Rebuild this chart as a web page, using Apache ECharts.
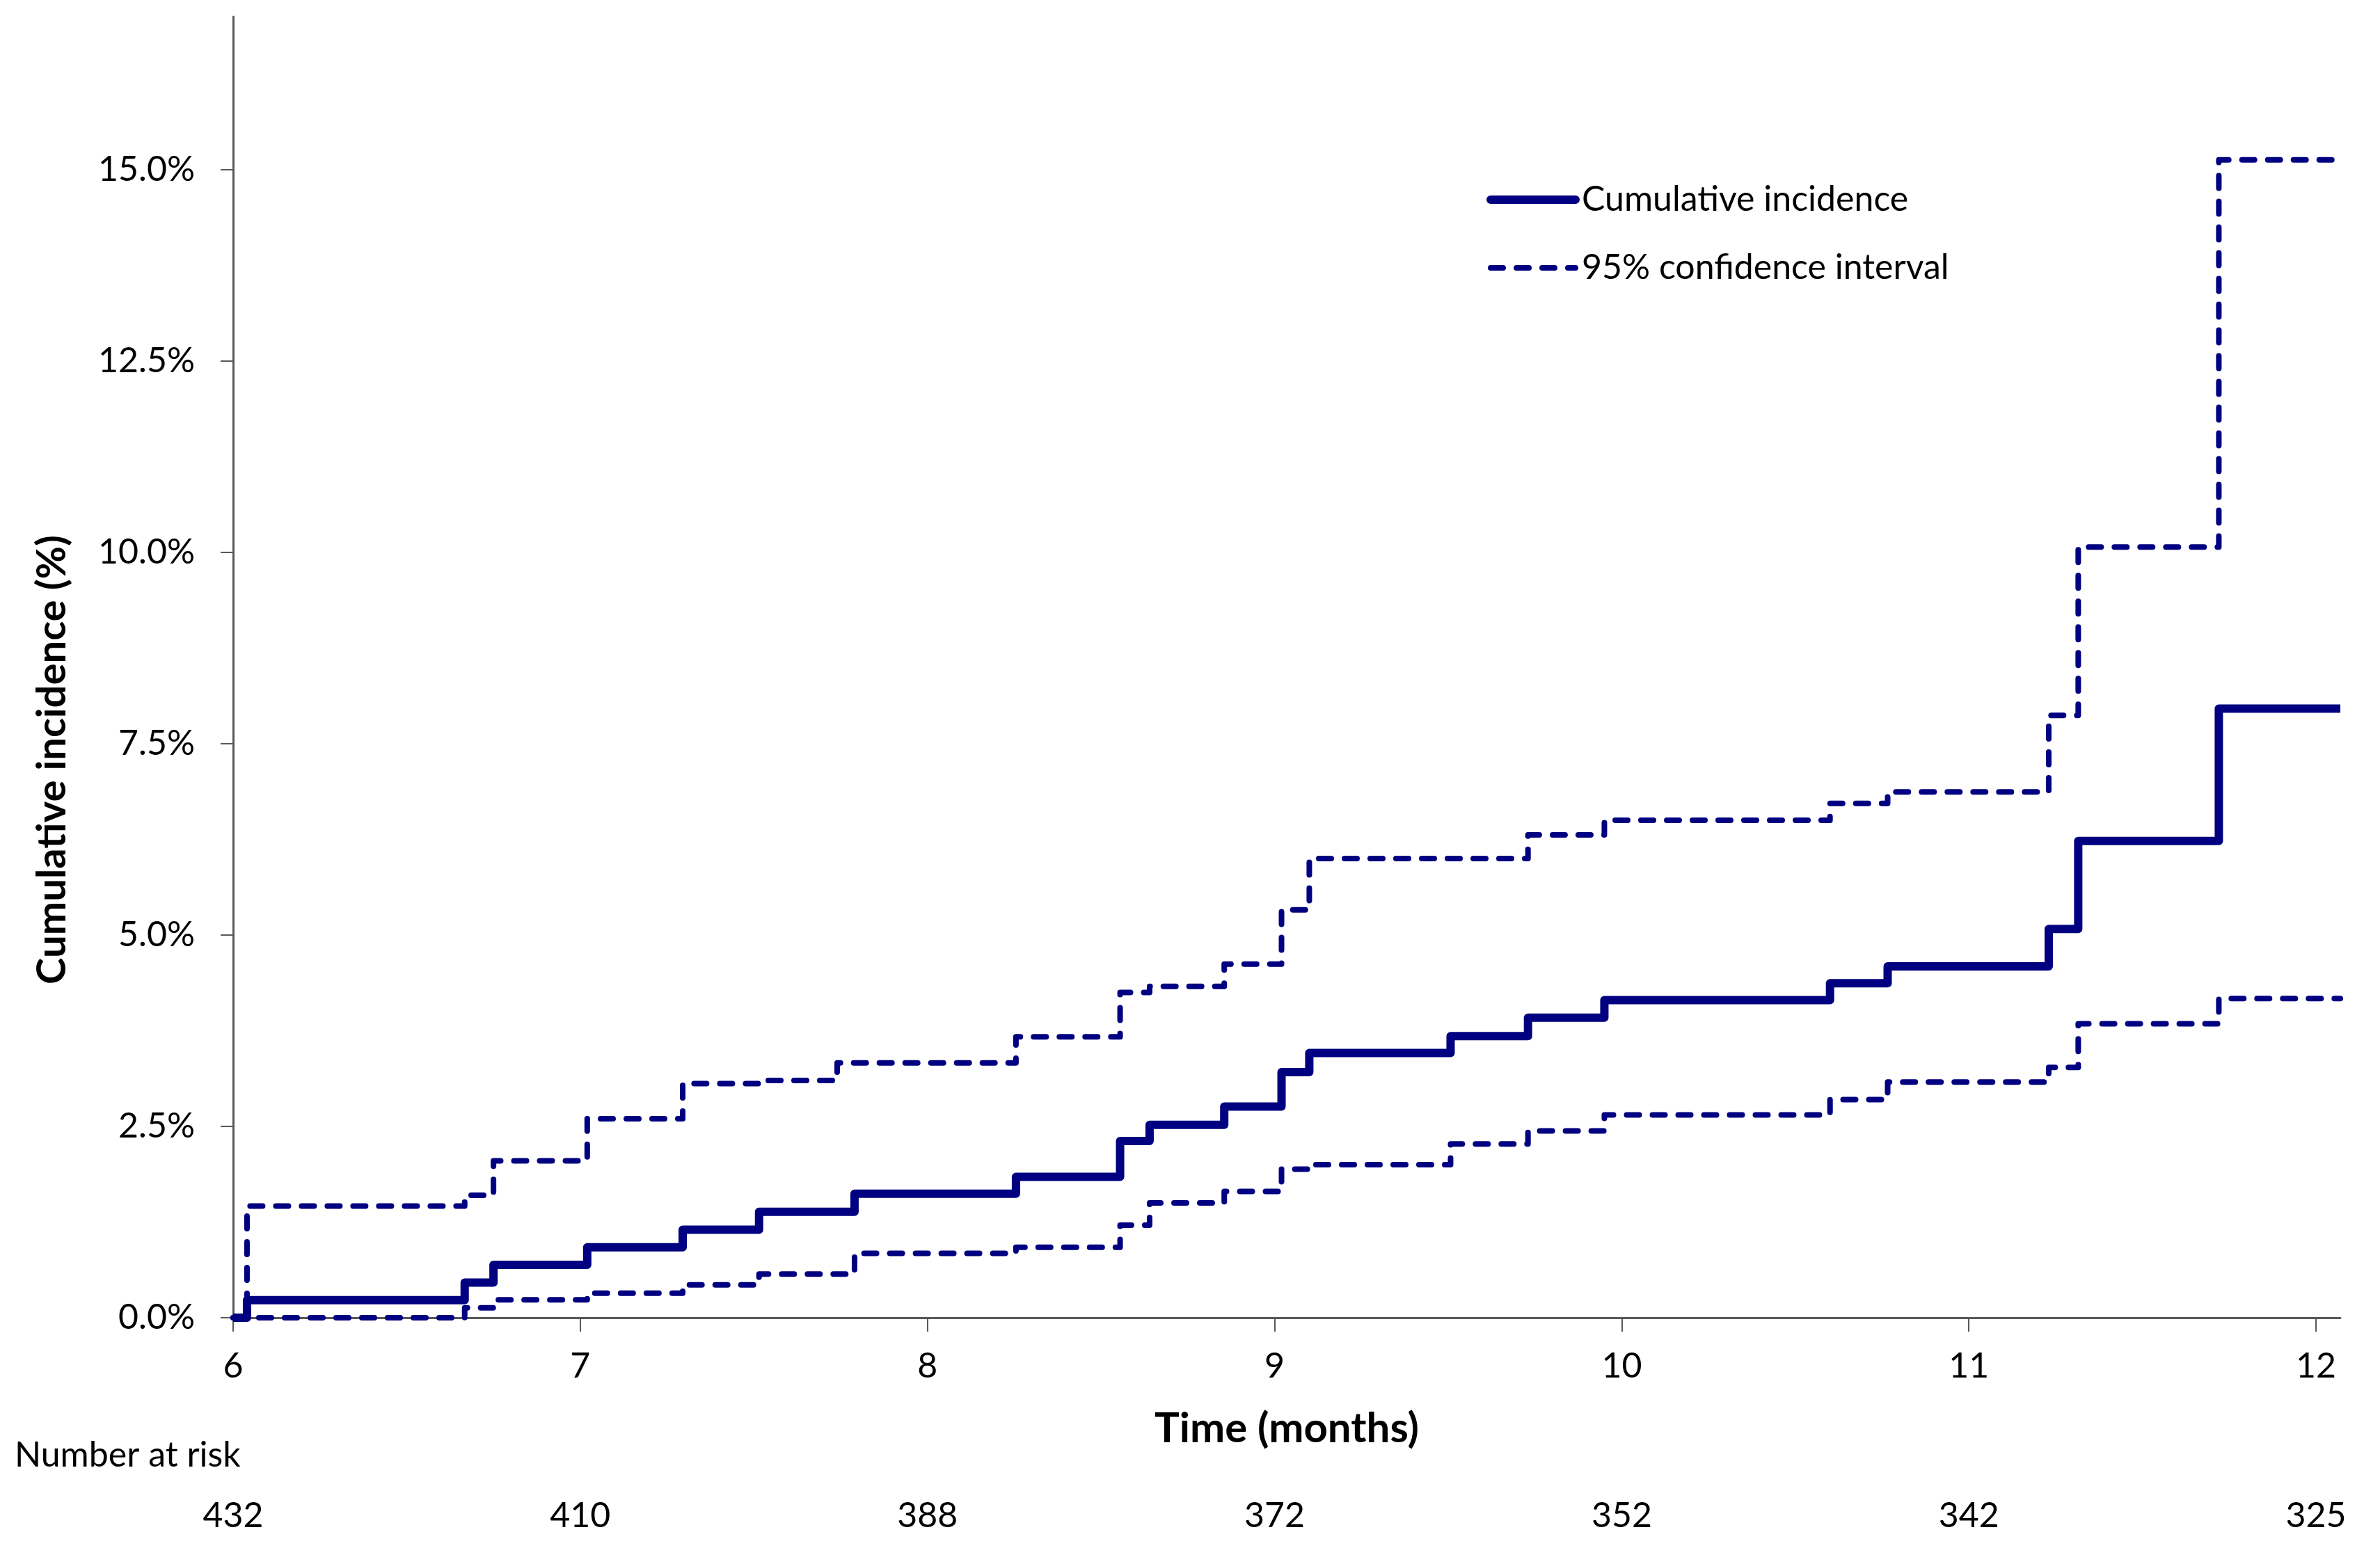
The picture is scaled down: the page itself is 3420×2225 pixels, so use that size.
<!DOCTYPE html>
<html>
<head>
<meta charset="utf-8">
<script src="https://cdn.jsdelivr.net/npm/echarts@6/dist/echarts.min.js"></script>
<style>
html,body{margin:0;padding:0;background:#fff;}
#chart{width:3420px;height:2225px;}
</style>
</head>
<body>
<div id="chart"></div>
<script>
// Event times (months) and step values (%)
const times      = [6, 6.04, 6.667, 6.75, 7.02, 7.295, 7.515, 7.79, 8.255, 8.555, 8.64, 8.855, 9.02, 9.10, 9.507, 9.73, 9.95, 10.60, 10.766, 11.23, 11.315, 11.72, 12.07];
const incidence  = [0, 0.23, 0.46, 0.69, 0.92, 1.15, 1.385, 1.62, 1.84, 2.31, 2.52, 2.76, 3.21, 3.46, 3.68, 3.92, 4.15, 4.37, 4.59, 5.08, 6.23, 7.96, 7.96];
const lowerCI    = [0, 0, 0.13, 0.235, 0.32, 0.43, 0.57, 0.84, 0.92, 1.21, 1.50, 1.65, 1.94, 2.0, 2.27, 2.44, 2.65, 2.85, 3.08, 3.27, 3.84, 4.17, 4.17];
const upperTimes = [6, 6.04, 6.667, 6.75, 7.02, 7.295, 7.515, 7.74, 8.255, 8.555, 8.64, 8.855, 9.02, 9.10, 9.507, 9.73, 9.95, 10.60, 10.766, 11.23, 11.315, 11.72, 12.06];
const upperCI    = [0, 1.46, 1.6, 2.05, 2.6, 3.06, 3.10, 3.33, 3.67, 4.25, 4.33, 4.62, 5.33, 6.0, 6.0, 6.31, 6.50, 6.72, 6.87, 7.87, 10.07, 15.13, 15.13];

const xTicks = [6, 7, 8, 9, 10, 11, 12];
const yTicks = [0, 2.5, 5, 7.5, 10, 12.5, 15];
const riskTimes  = [6, 7, 8, 9, 10, 11, 12];
const riskCounts = [432, 410, 388, 372, 352, 342, 325];

const navy = '#000080';
const axisColor = '#595959';
const font = 'Lato, "Open Sans", "Noto Sans", sans-serif';

function zip(xs, ys){ return xs.map((x, i) => [x, ys[i]]); }

const chart = echarts.init(document.getElementById('chart'), null, {renderer: 'canvas'});
chart.setOption({
  animation: false,
  backgroundColor: '#fff',
  textStyle: {fontFamily: font, color: '#000'},
  grid: {left: 335, right: 57, top: 24, bottom: 331, containLabel: false, outerBoundsMode: 'none'},
  legend: {
    orient: 'vertical',
    left: 2131,
    top: 252,
    itemWidth: 122,
    itemHeight: 14,
    itemGap: 38,
    selectedMode: false,
    data: ['Cumulative incidence', '95% confidence interval'],
    lineStyle: {width: 'inherit', type: 'inherit', cap: 'round', join: 'round'},
    itemStyle: {color: 'rgba(0,0,0,0)', borderColor: 'rgba(0,0,0,0)', borderWidth: 0, opacity: 0},
    textStyle: {fontFamily: font, fontSize: 50, color: '#000', lineHeight: 60, padding: [0, 0, 0, 4]}
  },
  xAxis: [{
    type: 'value',
    min: 6, max: 12.07,
    name: 'Time (months)',
    nameLocation: 'middle',
    nameGap: 130,
    nameTextStyle: {fontFamily: font, fontSize: 60, fontWeight: 'bold', color: '#000'},
    splitLine: {show: false},
    axisLine: {show: true, onZero: false, lineStyle: {color: axisColor, width: 3}},
    axisTick: {show: true, length: 20, customValues: xTicks, lineStyle: {color: axisColor, width: 2}},
    axisLabel: {customValues: xTicks, fontFamily: font, fontSize: 50, color: '#000', margin: 45}
  }, {
    type: 'value',
    min: 6, max: 12.07,
    position: 'bottom',
    offset: 215,
    splitLine: {show: false},
    axisLine: {show: false},
    axisTick: {show: false},
    axisLabel: {
      customValues: riskTimes, fontFamily: font, fontSize: 50, color: '#000', margin: 45,
      formatter: v => { const i = riskTimes.indexOf(v); return i >= 0 ? String(riskCounts[i]) : ''; }
    }
  }],
  yAxis: {
    type: 'value',
    min: 0, max: 17, interval: 2.5,
    splitLine: {show: false},
    axisLine: {show: true, lineStyle: {color: axisColor, width: 3}},
    axisTick: {show: true, length: 18, customValues: yTicks, lineStyle: {color: axisColor, width: 2}},
    axisLabel: {customValues: yTicks, fontFamily: font, fontSize: 50, color: '#000', margin: 55,
      formatter: v => v.toFixed(1) + '%'}
  },
  graphic: [{
    type: 'text',
    x: 75, y: 1092,
    rotation: Math.PI / 2,
    style: {text: 'Cumulative incidence (%)', fontFamily: font, fontSize: 58, fontWeight: 'bold',
      fill: '#000', textAlign: 'center', textVerticalAlign: 'middle'}
  }, {
    type: 'text',
    x: 21, y: 2092,
    style: {text: 'Number at risk', fontFamily: font, fontSize: 50, fill: '#000',
      textAlign: 'left', textVerticalAlign: 'middle'}
  }],
  series: [{
    name: 'Cumulative incidence',
    type: 'line',
    step: 'end',
    data: zip(times, incidence),
    symbol: 'none',
    z: 4,
    color: navy,
    lineStyle: {color: navy, width: 12, join: 'round', cap: 'butt'}
  }, {
    name: '95% confidence interval',
    type: 'line',
    step: 'end',
    data: zip(upperTimes, upperCI),
    symbol: 'none',
    z: 3,
    color: navy,
    lineStyle: {color: navy, width: 8, type: [18, 19], cap: 'round', join: 'round'}
  }, {
    name: '95% confidence interval',
    type: 'line',
    step: 'end',
    data: zip(times, lowerCI),
    symbol: 'none',
    z: 3,
    color: navy,
    lineStyle: {color: navy, width: 8, type: [18, 19], cap: 'round', join: 'round'}
  }]
});
</script>
</body>
</html>
